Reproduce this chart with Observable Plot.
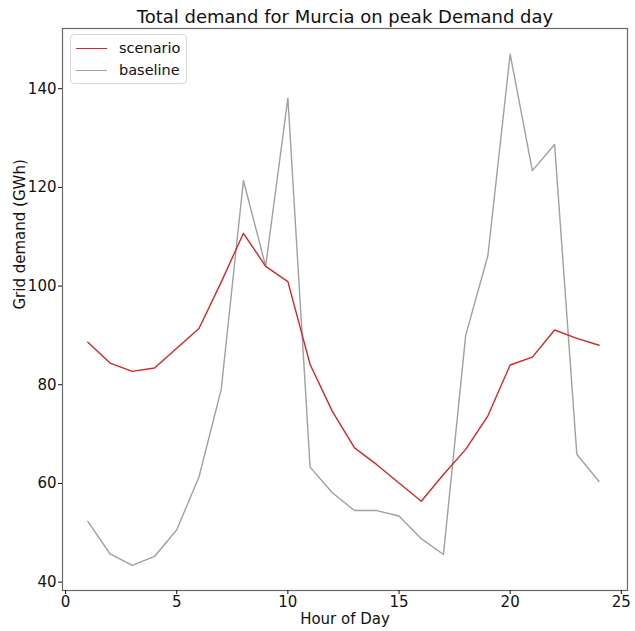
<!DOCTYPE html>
<html>
<head>
<meta charset="utf-8">
<script src="https://cdn.jsdelivr.net/npm/d3@7"></script>
<script src="https://cdn.jsdelivr.net/npm/@observablehq/plot@0.6"></script>
<style>
  html, body { margin: 0; padding: 0; background: #fff; }
  #chart { position: relative; width: 635px; height: 631px; font-family: "DejaVu Sans", sans-serif; }
  .legend {
    position: absolute; left: 70px; top: 34px; width: 117px; height: 50px;
    border: 1px solid #d8d8d8; border-radius: 4px; background: rgba(255,255,255,0.8);
    box-sizing: border-box; font-size: 14.5px; color: #111;
  }
  .legend .row { position: absolute; left: 0; height: 20px; display: flex; align-items: center; }
  .legend .swatch { width: 31px; height: 0; margin-left: 5px; margin-right: 12px; }
</style>
</head>
<body>
<div id="chart"></div>
<script>
// Hourly grid demand (GWh) for Murcia on the peak demand day
const hours = [1, 2, 3, 4, 5, 6, 7, 8, 9, 10, 11, 12, 13, 14, 15, 16, 17, 18, 19, 20, 21, 22, 23, 24];
const scenario = [88.6, 84.4, 82.7, 83.4, 87.4, 91.4, 100.8, 110.7, 104.0, 100.9, 84.1, 74.6, 67.2, 63.8, 60.1, 56.4, 61.8, 66.9, 73.7, 84.0, 85.6, 91.1, 89.4, 88.0];
const baseline = [52.3, 45.7, 43.4, 45.2, 50.6, 61.3, 79.0, 121.4, 104.0, 138.1, 63.3, 58.1, 54.5, 54.5, 53.4, 48.8, 45.6, 90.0, 106.2, 147.0, 123.4, 128.7, 65.9, 60.4];
const xTicks = [0, 5, 10, 15, 20, 25];
const yTicks = [40, 60, 80, 100, 120, 140];
const seriesNames = ["scenario", "baseline"];
const seriesColors = ["#d62728", "#a0a0a0"];

const rows = [
  ...hours.map((h, i) => ({hour: h, demand: scenario[i], series: seriesNames[0]})),
  ...hours.map((h, i) => ({hour: h, demand: baseline[i], series: seriesNames[1]}))
];

const font = "DejaVu Sans, sans-serif";

const chart = Plot.plot({
  width: 635,
  height: 631,
  marginLeft: 62,
  marginRight: 8,
  marginTop: 28,
  marginBottom: 41,
  style: {fontFamily: font, fontSize: "15px", color: "#111", background: "#fff"},
  x: {domain: [-0.14, 25.28], ticks: xTicks},
  y: {domain: [38.3, 152.2], ticks: yTicks},
  color: {domain: seriesNames, range: seriesColors},
  marks: [
    Plot.frame({stroke: "#6a6a6a", strokeWidth: 1.2}),
    Plot.line(rows.filter(d => d.series === "baseline"), {x: "hour", y: "demand", stroke: "series", strokeWidth: 1.4}),
    Plot.line(rows.filter(d => d.series === "scenario"), {x: "hour", y: "demand", stroke: "series", strokeWidth: 1.4}),
    Plot.axisX({ticks: xTicks, tickSize: 4, tickPadding: 2, label: null, fontSize: 15}),
    Plot.axisY({ticks: yTicks, tickSize: 4, tickPadding: 2, label: null, fontSize: 15}),
    Plot.text(["Hour of Day"], {frameAnchor: "bottom", dy: 33, fontSize: 15, fill: "#111"}),
    Plot.text(["Grid demand (GWh)"], {frameAnchor: "left", rotate: -90, dx: -42, fontSize: 15, fill: "#111"}),
    Plot.text(["Total demand for Murcia on peak Demand day"], {frameAnchor: "top", lineAnchor: "middle", dy: -11, fontSize: 18, fill: "#111"})
  ]
});

const root = document.getElementById("chart");
root.appendChild(chart);

// Legend box in the upper-left corner of the plot area
const legend = document.createElement("div");
legend.className = "legend";
seriesNames.forEach((name, i) => {
  const row = document.createElement("div");
  row.className = "row";
  row.style.top = (3 + i * 22) + "px";
  const sw = document.createElement("span");
  sw.className = "swatch";
  sw.style.borderTop = `1.5px solid ${seriesColors[i]}`;
  const label = document.createElement("span");
  label.textContent = name;
  row.appendChild(sw);
  row.appendChild(label);
  legend.appendChild(row);
});
root.appendChild(legend);
</script>
</body>
</html>
